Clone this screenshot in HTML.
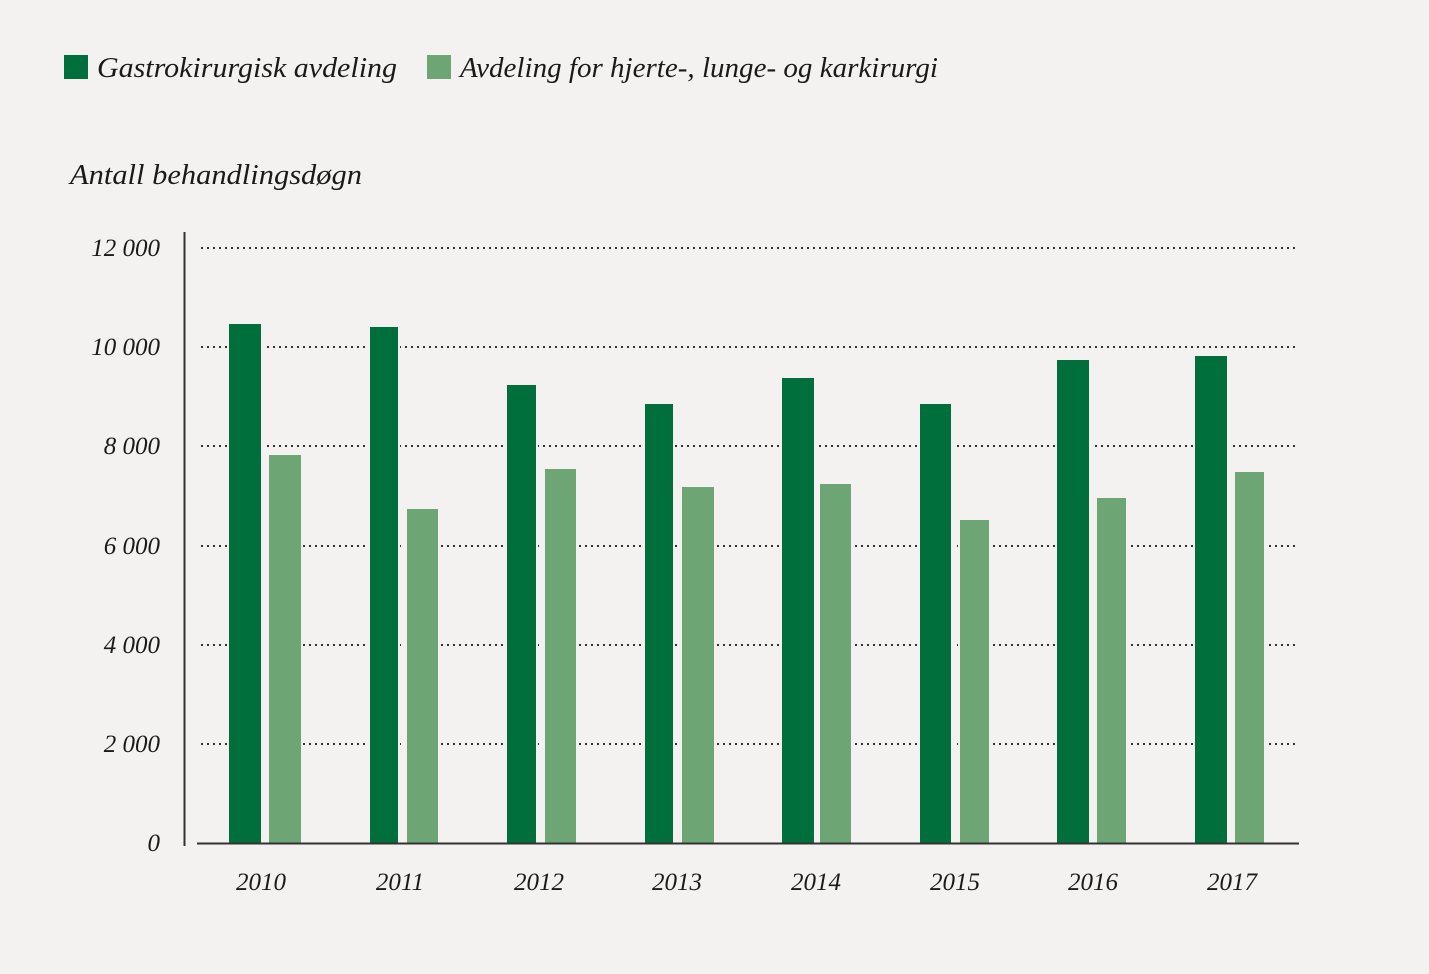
<!DOCTYPE html>
<html><head><style>
body{margin:0;background:#f3f2f0;}
svg text{font-family:"Liberation Serif",serif;font-style:italic;fill:#1a1a1a;}
</style></head><body>
<svg width="1429" height="969" xmlns="http://www.w3.org/2000/svg">
<rect width="1429" height="969" fill="#f3f2f0"/>
<rect x="64" y="55" width="24" height="24" fill="#006f3c"/>
<text x="97" y="77" font-size="29" textLength="300" lengthAdjust="spacingAndGlyphs">Gastrokirurgisk avdeling</text>
<rect x="427" y="55" width="24" height="24" fill="#6da674"/>
<text x="460" y="77" font-size="29" textLength="478" lengthAdjust="spacingAndGlyphs">Avdeling for hjerte-, lunge- og karkirurgi</text>
<text x="70" y="184" font-size="28" textLength="292" lengthAdjust="spacingAndGlyphs">Antall behandlingsdøgn</text>
<g stroke="#333" stroke-width="2" stroke-dasharray="2,4">
<line x1="201" y1="248" x2="1298" y2="248"/>
<line x1="201" y1="347" x2="1298" y2="347"/>
<line x1="201" y1="446" x2="1298" y2="446"/>
<line x1="201" y1="546" x2="1298" y2="546"/>
<line x1="201" y1="645" x2="1298" y2="645"/>
<line x1="201" y1="744" x2="1298" y2="744"/>
</g>
<g font-size="25" text-anchor="end">
<text x="160" y="256">12 000</text>
<text x="160" y="355">10 000</text>
<text x="160" y="454">8 000</text>
<text x="160" y="554">6 000</text>
<text x="160" y="653">4 000</text>
<text x="160" y="752">2 000</text>
<text x="160" y="851">0</text>
</g>
<g fill="#006f3c" stroke="#f3f2f0" stroke-width="2">
<rect x="228" y="323" width="34" height="521"/>
<rect x="369" y="326" width="30" height="518"/>
<rect x="506" y="384" width="31" height="460"/>
<rect x="644" y="403" width="30" height="441"/>
<rect x="781" y="377" width="34" height="467"/>
<rect x="919" y="403" width="33" height="441"/>
<rect x="1056" y="359" width="34" height="485"/>
<rect x="1194" y="355" width="34" height="489"/>
</g>
<g fill="#6da674" stroke="#f3f2f0" stroke-width="2">
<rect x="268" y="454" width="34" height="390"/>
<rect x="406" y="508" width="33" height="336"/>
<rect x="544" y="468" width="33" height="376"/>
<rect x="681" y="486" width="34" height="358"/>
<rect x="819" y="483" width="33" height="361"/>
<rect x="959" y="519" width="31" height="325"/>
<rect x="1096" y="497" width="31" height="347"/>
<rect x="1234" y="471" width="31" height="373"/>
</g>
<line x1="184.5" y1="232" x2="184.5" y2="846" stroke="#333" stroke-width="2"/>
<line x1="197" y1="843.5" x2="1299" y2="843.5" stroke="#333" stroke-width="2"/>
<g font-size="25" text-anchor="middle">
<text x="261" y="890">2010</text>
<text x="400" y="890">2011</text>
<text x="539" y="890">2012</text>
<text x="677" y="890">2013</text>
<text x="816" y="890">2014</text>
<text x="955" y="890">2015</text>
<text x="1093" y="890">2016</text>
<text x="1232" y="890">2017</text>
</g>
</svg>
</body></html>
